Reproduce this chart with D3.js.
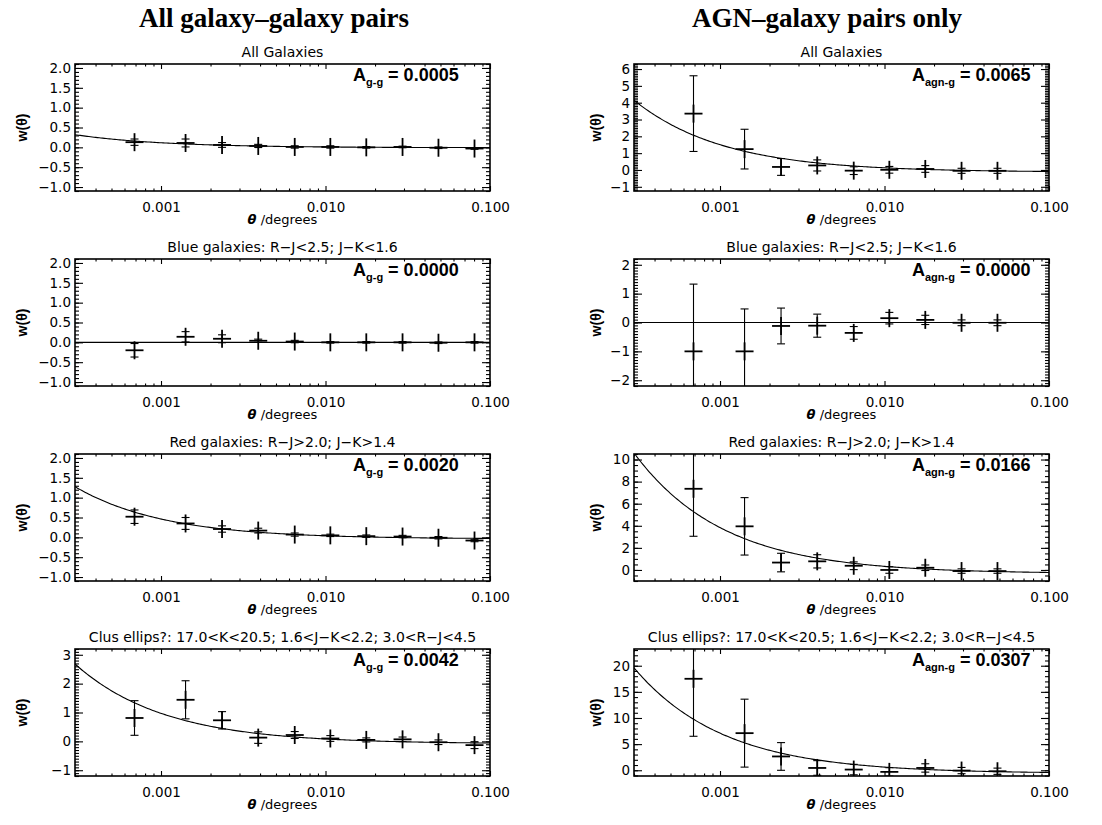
<!DOCTYPE html>
<html>
<head>
<meta charset="utf-8">
<script src="https://cdn.jsdelivr.net/npm/d3@7"></script>
<style>
  body { margin: 0; background: #fff; }
  svg { display: block; }
</style>
</head>
<body>
<svg id="fig" width="1102" height="825"></svg>
<script>
// Angular bin centres (degrees)
const theta = [0.00069, 0.00141, 0.00235, 0.0039, 0.0065, 0.0107, 0.0177, 0.0294, 0.0486, 0.0805];

// Galaxy-galaxy correlation w(theta) and 1-sigma errors
const ggAllW    = [0.13, 0.11, 0.06, 0.035, 0.01, 0.01, 0.00, 0.01, -0.01, -0.03];
const ggAllErr  = [0.08, 0.10, 0.06, 0.04, 0.03, 0.03, 0.02, 0.02, 0.02, 0.02];
const ggBlueW   = [-0.20, 0.14, 0.09, 0.04, 0.02, 0.00, 0.00, 0.00, -0.01, 0.00];
const ggBlueErr = [0.17, 0.13, 0.10, 0.04, 0.03, 0.02, 0.02, 0.02, 0.02, 0.02];
const ggRedW    = [0.52, 0.35, 0.21, 0.17, 0.07, 0.05, 0.03, 0.02, -0.01, -0.08];
const ggRedErr  = [0.17, 0.15, 0.08, 0.06, 0.04, 0.03, 0.03, 0.03, 0.03, 0.03];
const ggClusW   = [0.81, 1.44, 0.73, 0.13, 0.22, 0.10, 0.05, 0.07, -0.03, -0.13];
const ggClusErr = [0.60, 0.66, 0.30, 0.20, 0.12, 0.10, 0.07, 0.08, 0.08, 0.12];

// AGN-galaxy cross-correlation w(theta) and 1-sigma errors
const agnAllW    = [3.35, 1.24, 0.18, 0.27, -0.04, 0.01, 0.06, -0.05, -0.05];
const agnAllErr  = [2.25, 1.18, 0.50, 0.33, 0.23, 0.20, 0.20, 0.15, 0.15];
const agnBlueW   = [-1.00, -1.00, -0.12, -0.11, -0.36, 0.15, 0.09, -0.01, -0.01];
const agnBlueErr = [2.33, 1.47, 0.62, 0.40, 0.22, 0.20, 0.16, 0.10, 0.10];
const agnRedW    = [7.35, 3.95, 0.67, 0.78, 0.38, 0.00, 0.20, -0.10, -0.10];
const agnRedErr  = [4.30, 2.60, 0.84, 0.60, 0.35, 0.30, 0.25, 0.20, 0.20];
const agnClusW   = [17.5, 7.10, 2.64, 0.44, 0.13, -0.31, 0.44, -0.06, -0.19];
const agnClusErr = [11.0, 6.50, 2.65, 1.40, 1.00, 0.80, 0.80, 0.60, 0.60];

// Fitted power-law amplitudes, w = A (theta^-delta - C)
const ampGG  = [0.0005, 0.0000, 0.0020, 0.0042];
const ampAGN = [0.0065, 0.0000, 0.0166, 0.0307];
const slopeDelta = 0.8;
const integralC = 20;

// Text
const columnTitles = ["All galaxy\u2013galaxy pairs", "AGN\u2013galaxy pairs only"];
const subsetTitles = [
  "All Galaxies",
  "Blue galaxies: R\u2212J<2.5; J\u2212K<1.6",
  "Red galaxies: R\u2212J>2.0; J\u2212K>1.4",
  "Clus ellips?: 17.0<K<20.5; 1.6<J\u2212K<2.2; 3.0<R\u2212J<4.5"
];
const ampSubscripts = ["g-g", "agn-g"];

// Axis ranges and tick steps
const thetaRange = [0.0003, 0.1];
const thetaTicks = [0.001, 0.01, 0.1];
const thetaTickLabels = ["0.001", "0.010", "0.100"];
const ggRanges  = [[-1.1, 2.1], [-1.1, 2.1], [-1.1, 2.1], [-1.2, 3.2]];
const agnRanges = [[-1.25, 6.3], [-2.2, 2.2], [-1.0, 10.5], [-1.1, 23.2]];
const ggMajor  = [0.5, 0.5, 0.5, 1];
const ggMinor  = [0.1, 0.1, 0.1, 0.1];
const agnMajor = [1, 1, 2, 5];
const agnMinor = [0.1, 0.1, 0.5, 1];
const ggDecimals  = [1, 1, 1, 0];
const agnDecimals = [0, 0, 0, 0];

// Panel table built from the arrays above
const columns = [
  { w: [ggAllW, ggBlueW, ggRedW, ggClusW], err: [ggAllErr, ggBlueErr, ggRedErr, ggClusErr],
    amp: ampGG, ranges: ggRanges, major: ggMajor, minor: ggMinor, dec: ggDecimals, sub: ampSubscripts[0] },
  { w: [agnAllW, agnBlueW, agnRedW, agnClusW], err: [agnAllErr, agnBlueErr, agnRedErr, agnClusErr],
    amp: ampAGN, ranges: agnRanges, major: agnMajor, minor: agnMinor, dec: agnDecimals, sub: ampSubscripts[1] }
];

// ---- layout ----
const svg = d3.select("#fig");
const colLeft = [75, 634];
const plotW = 415;
const rowTop = [64, 259, 454, 649];
const plotH = 127;
const tickFont = "'DejaVu Sans', sans-serif";
const titleCentres = [274, 827];

svg.append("rect").attr("width", 1102).attr("height", 825).attr("fill", "#fff");

// Column headings
columnTitles.forEach((t, c) => {
  svg.append("text")
    .attr("x", titleCentres[c]).attr("y", 27)
    .attr("text-anchor", "middle")
    .attr("font-family", "'Liberation Serif', 'Times New Roman', serif")
    .attr("font-weight", "bold").attr("font-size", 27)
    .text(t);
});

function stepRange(lo, hi, step) {
  const out = [];
  const k0 = Math.ceil(lo / step - 1e-9), k1 = Math.floor(hi / step + 1e-9);
  for (let k = k0; k <= k1; k++) out.push(+(k * step).toFixed(6));
  return out;
}

// Log minor ticks: 2..9 per decade
const thetaMinor = [];
for (let e = -4; e <= -1; e++) {
  for (let m = 2; m <= 9; m++) {
    const v = m * Math.pow(10, e);
    if (v > thetaRange[0] * 0.999 && v < thetaRange[1]) thetaMinor.push(v);
  }
}

let clipId = 0;
columns.forEach((col, c) => {
  for (let r = 0; r < 4; r++) {
    const x0 = colLeft[c], y0 = rowTop[r];
    const g = svg.append("g").attr("transform", `translate(${x0},${y0})`);

    const x = d3.scaleLog().domain(thetaRange).range([0, plotW]);
    const y = d3.scaleLinear().domain(col.ranges[r]).range([plotH, 0]);

    const id = "clip" + (clipId++);
    g.append("clipPath").attr("id", id)
      .append("rect").attr("width", plotW).attr("height", plotH);

    // Subset title
    g.append("text")
      .attr("x", plotW / 2).attr("y", -7)
      .attr("text-anchor", "middle")
      .attr("font-family", tickFont).attr("font-size", 14)
      .text(subsetTitles[r]);

    // Axes (ticks point inward)
    const majY = stepRange(col.ranges[r][0], col.ranges[r][1], col.major[r]);
    const minY = stepRange(col.ranges[r][0], col.ranges[r][1], col.minor[r]);
    const fmtY = d3.format("." + col.dec[r] + "f");

    const axes = g.append("g").attr("class", "axes");
    const styleAxis = size => sel => {
      sel.select(".domain").remove();
      sel.selectAll(".tick line").attr("stroke", "#000").attr("stroke-width", 1.1);
      sel.selectAll("text").attr("font-family", tickFont).attr("font-size", size).attr("fill", "#000");
    };

    axes.append("g").attr("transform", `translate(0,${plotH})`)
      .call(d3.axisBottom(x).tickValues(thetaMinor).tickSize(-2.5).tickFormat(""))
      .call(styleAxis(13));
    axes.append("g").attr("transform", `translate(0,${plotH})`)
      .call(d3.axisBottom(x).tickValues(thetaTicks).tickSize(-5).tickPadding(11)
        .tickFormat((d, i) => thetaTickLabels[i]))
      .call(styleAxis(13.5));
    axes.append("g")
      .call(d3.axisTop(x).tickValues(thetaMinor).tickSize(-2.5).tickFormat(""))
      .call(styleAxis(13));
    axes.append("g")
      .call(d3.axisTop(x).tickValues(thetaTicks).tickSize(-5).tickFormat(""))
      .call(styleAxis(13));

    axes.append("g")
      .call(d3.axisLeft(y).tickValues(minY).tickSize(-4).tickFormat(""))
      .call(styleAxis(13));
    axes.append("g")
      .call(d3.axisLeft(y).tickValues(majY).tickSize(-8).tickPadding(4).tickFormat(fmtY))
      .call(styleAxis(13.5));
    axes.append("g").attr("transform", `translate(${plotW},0)`)
      .call(d3.axisRight(y).tickValues(minY).tickSize(-4).tickFormat(""))
      .call(styleAxis(13));
    axes.append("g").attr("transform", `translate(${plotW},0)`)
      .call(d3.axisRight(y).tickValues(majY).tickSize(-8).tickFormat(""))
      .call(styleAxis(13));

    // Frame
    g.append("rect").attr("width", plotW).attr("height", plotH)
      .attr("fill", "none").attr("stroke", "#000").attr("stroke-width", 1.6);

    const inner = g.append("g").attr("clip-path", `url(#${id})`);

    // Power-law model curve
    const A = col.amp[r];
    const lx0 = Math.log10(thetaRange[0]), lx1 = Math.log10(thetaRange[1]);
    const samples = d3.range(0, 241).map(i => Math.pow(10, lx0 + (lx1 - lx0) * i / 240));
    const line = d3.line()
      .x(t => x(t))
      .y(t => y(A * (Math.pow(t, -slopeDelta) - integralC)));
    inner.append("path").datum(samples)
      .attr("d", line).attr("fill", "none")
      .attr("stroke", "#000").attr("stroke-width", 1.1);

    // Data points: error bars with caps, plus-sign symbol
    const wv = col.w[r], ev = col.err[r];
    const pts = wv.map((v, i) => ({ t: theta[i], w: v, e: ev[i] }));
    const pg = inner.selectAll("g.pt").data(pts).join("g").attr("class", "pt");
    pg.append("line")
      .attr("x1", d => x(d.t)).attr("x2", d => x(d.t))
      .attr("y1", d => y(d.w - d.e)).attr("y2", d => y(d.w + d.e))
      .attr("stroke", "#000").attr("stroke-width", 1.1);
    [-1, 1].forEach(s => {
      pg.append("line")
        .attr("x1", d => x(d.t) - 4).attr("x2", d => x(d.t) + 4)
        .attr("y1", d => y(d.w + s * d.e)).attr("y2", d => y(d.w + s * d.e))
        .attr("stroke", "#000").attr("stroke-width", 1.1);
    });
    pg.append("line")
      .attr("x1", d => x(d.t) - 9).attr("x2", d => x(d.t) + 9)
      .attr("y1", d => y(d.w)).attr("y2", d => y(d.w))
      .attr("stroke", "#000").attr("stroke-width", 1.8);
    pg.append("line")
      .attr("x1", d => x(d.t)).attr("x2", d => x(d.t))
      .attr("y1", d => y(d.w) - 9).attr("y2", d => y(d.w) + 9)
      .attr("stroke", "#000").attr("stroke-width", 1.8);

    // Amplitude label
    const amp = g.append("text")
      .attr("x", 278).attr("y", 17)
      .attr("font-family", "'Liberation Sans', Arial, sans-serif")
      .attr("font-weight", "bold").attr("font-size", 18);
    amp.append("tspan").text("A");
    amp.append("tspan").attr("dy", 5).attr("font-size", 11).text(col.sub);
    amp.append("tspan").attr("dy", -5).text(" = " + A.toFixed(4));

    // Axis titles
    g.append("text")
      .attr("transform", `translate(${c === 0 ? -48 : -33},${plotH / 2}) rotate(-90)`)
      .attr("text-anchor", "middle")
      .attr("font-family", "'Liberation Sans', Arial, sans-serif")
      .attr("font-weight", "bold").attr("font-size", 14)
      .text("w(\u03b8)");
    const xl = g.append("text")
      .attr("x", plotW / 2).attr("y", plotH + 33)
      .attr("text-anchor", "middle")
      .attr("font-family", tickFont).attr("font-size", 13);
    xl.append("tspan").attr("font-weight", "bold").attr("font-style", "italic").text("\u03b8");
    xl.append("tspan").text(" /degrees");
  }
});
</script>
</body>
</html>
